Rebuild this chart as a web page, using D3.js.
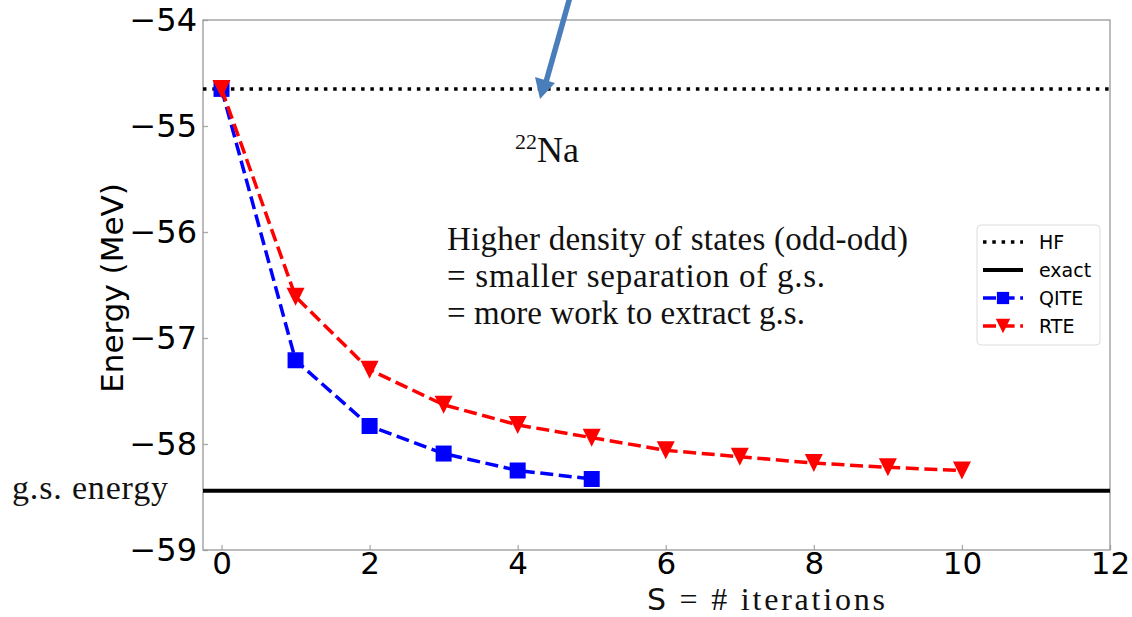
<!DOCTYPE html>
<html>
<head>
<meta charset="utf-8">
<script src="https://cdn.jsdelivr.net/npm/d3@7"></script>
<style>
  body { margin: 0; background: #fff; }
  svg { display: block; }
  .tick text { font-family: "DejaVu Sans", sans-serif; fill: #000; }
  .tick line { stroke: #aaa; stroke-width: 1.3; }
  .serif { font-family: "Liberation Serif", "DejaVu Serif", serif; fill: #111; }
</style>
</head>
<body>
<svg id="chart"></svg>
<script>
// data
var iterQITE = [0, 1, 2, 3, 4, 5];
var energyQITE = [-54.65, -57.21, -57.83, -58.09, -58.25, -58.33];
var iterRTE = [0, 1, 2, 3, 4, 5, 6, 7, 8, 9, 10];
var energyRTE = [-54.65, -56.61, -57.30, -57.63, -57.82, -57.94, -58.06, -58.12, -58.18, -58.22, -58.25];
var energyHF = -54.65;
var energyExact = -58.44;
var xTicks = [0, 2, 4, 6, 8, 10, 12];
var yTicks = [-54, -55, -56, -57, -58, -59];
var legendLabels = ["HF", "exact", "QITE", "RTE"];
var noteLines = ["Higher density of states (odd-odd)", "= smaller separation of g.s.", "= more work to extract g.s."];

var width = 1132, height = 617;
var margin = {top: 20, right: 22, bottom: 67, left: 203};

var svg = d3.select("#chart")
    .attr("width", width)
    .attr("height", height);

var x = d3.scaleLinear()
    .domain([-0.25, 12])
    .range([margin.left, width - margin.right]);

var y = d3.scaleLinear()
    .domain([-59, -54])
    .range([height - margin.bottom, margin.top]);

// axes, ticks pointing inward
svg.append("g")
    .attr("transform", "translate(0," + y(-59) + ")")
    .call(d3.axisBottom(x).tickValues(xTicks).tickSize(-5).tickPadding(2).tickFormat(d3.format("d")))
    .call(g => g.select(".domain").remove())
    .selectAll("text").attr("font-size", 31);

svg.append("g")
    .attr("transform", "translate(" + x(-0.25) + ",0)")
    .call(d3.axisLeft(y).tickValues(yTicks).tickSize(-5).tickPadding(6).tickFormat(d => "\u2212" + Math.abs(d)))
    .call(g => g.select(".domain").remove())
    .selectAll("text").attr("font-size", 32);

svg.append("rect")
    .attr("x", x(-0.25))
    .attr("y", y(-54))
    .attr("width", x(12) - x(-0.25))
    .attr("height", y(-59) - y(-54))
    .attr("fill", "none")
    .attr("stroke", "#999")
    .attr("stroke-width", 1.3);

// reference lines
svg.append("line")
    .attr("x1", x(-0.25)).attr("x2", x(12))
    .attr("y1", y(energyHF)).attr("y2", y(energyHF))
    .attr("stroke", "#000")
    .attr("stroke-width", 3.5)
    .attr("stroke-dasharray", "3.5,5.8");

svg.append("line")
    .attr("x1", x(-0.25)).attr("x2", x(12))
    .attr("y1", y(energyExact)).attr("y2", y(energyExact))
    .attr("stroke", "#000")
    .attr("stroke-width", 4);

var line = d3.line()
    .x(d => x(d[0]))
    .y(d => y(d[1]));

var qite = iterQITE.map((s, i) => [s, energyQITE[i]]);
var rte = iterRTE.map((s, i) => [s, energyRTE[i]]);

var square = d3.symbol().type(d3.symbolSquare);
var triDown = "M-9,-9L9,-9L0,9Z";

svg.append("path")
    .datum(qite)
    .attr("d", line)
    .attr("fill", "none")
    .attr("stroke", "#0000ff")
    .attr("stroke-width", 3.5)
    .attr("stroke-dasharray", "13,5.6");

svg.selectAll(".qite")
    .data(qite)
  .enter().append("path")
    .classed("qite", true)
    .attr("transform", d => "translate(" + x(d[0]) + "," + y(d[1]) + ")")
    .attr("d", square.size(256))
    .attr("fill", "#0000ff");

svg.append("path")
    .datum(rte)
    .attr("d", line)
    .attr("fill", "none")
    .attr("stroke", "#ff0000")
    .attr("stroke-width", 3.5)
    .attr("stroke-dasharray", "13,5.6");

svg.selectAll(".rte")
    .data(rte)
  .enter().append("path")
    .classed("rte", true)
    .attr("transform", d => "translate(" + x(d[0]) + "," + y(d[1]) + ")")
    .attr("d", triDown)
    .attr("fill", "#ff0000");

// legend
var legend = svg.append("g").attr("transform", "translate(977,225)");
legend.append("rect")
    .attr("width", 123).attr("height", 120)
    .attr("rx", 4)
    .attr("fill", "#fff").attr("fill-opacity", 0.8)
    .attr("stroke", "#ddd").attr("stroke-width", 1);

var rows = legend.selectAll(".row")
    .data(legendLabels)
  .enter().append("g")
    .attr("transform", (d, i) => "translate(6," + (17 + i * 28) + ")");

rows.append("line")
    .attr("x1", 0).attr("x2", 40)
    .attr("stroke", (d, i) => i < 2 ? "#000" : (i === 2 ? "#0000ff" : "#ff0000"))
    .attr("stroke-width", (d, i) => i === 1 ? 4 : 3.5)
    .attr("stroke-dasharray", (d, i) => i === 0 ? "3.5,5.8" : (i === 1 ? null : "13,5.6"));

rows.filter((d, i) => i === 2).append("path")
    .attr("transform", "translate(20,0)")
    .attr("d", square.size(150))
    .attr("fill", "#0000ff");

rows.filter((d, i) => i === 3).append("path")
    .attr("transform", "translate(20,0) scale(0.8)")
    .attr("d", triDown)
    .attr("fill", "#ff0000");

rows.append("text")
    .attr("x", 56)
    .attr("dy", "0.35em")
    .attr("font-family", "DejaVu Sans, sans-serif")
    .attr("font-size", 19)
    .text(d => d);

// axis labels
svg.append("text")
    .attr("transform", "translate(123,288) rotate(-90)")
    .attr("text-anchor", "middle")
    .attr("font-family", "DejaVu Sans, sans-serif")
    .attr("font-size", 31)
    .text("Energy (MeV)");

var xlab = svg.append("text")
    .attr("x", 647).attr("y", 610)
    .attr("font-size", 32)
    .attr("textLength", 238)
    .attr("class", "serif");
xlab.append("tspan").attr("font-family", "DejaVu Sans, sans-serif").attr("font-size", 30).text("S");
xlab.append("tspan").text(" = # iterations");

// annotations
svg.append("text")
    .attr("class", "serif")
    .attr("x", 12).attr("y", 499)
    .attr("font-size", 34)
    .attr("textLength", 156)
    .text("g.s. energy");

var na = svg.append("text")
    .attr("class", "serif")
    .attr("x", 515).attr("y", 162)
    .attr("font-size", 36);
na.append("tspan").attr("font-size", 22).attr("dy", -13).text("22");
na.append("tspan").attr("dy", 13).text("Na");

svg.selectAll(".note")
    .data(noteLines)
  .enter().append("text")
    .attr("class", "serif note")
    .attr("x", 447)
    .attr("y", (d, i) => 250 + i * 37)
    .attr("font-size", 33)
    .attr("textLength", (d, i) => [461, 378, 358][i])
    .text(d => d);

// arrow pointing at the HF line
var arrow = svg.append("g");
arrow.append("line")
    .attr("x1", 572).attr("y1", -10)
    .attr("x2", 546).attr("y2", 82)
    .attr("stroke", "#4a7ebb")
    .attr("stroke-width", 5.5);
arrow.append("path")
    .attr("d", "M535,77L555,83L540,99Z")
    .attr("fill", "#4a7ebb");
</script>
</body>
</html>
